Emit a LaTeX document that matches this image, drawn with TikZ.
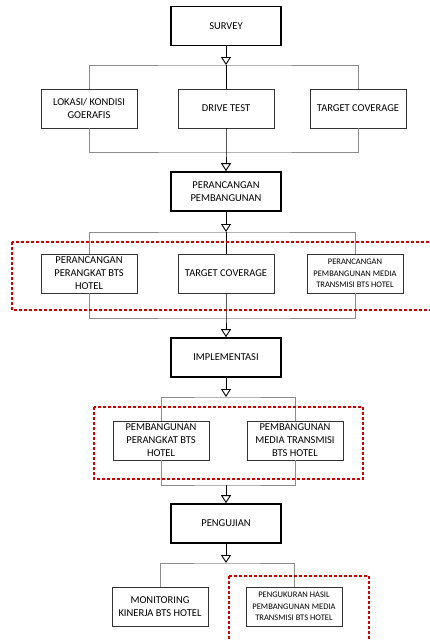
\documentclass[tikz,border=0pt]{standalone}
\usepackage{fontspec}
\setmainfont{Carlito}
\usetikzlibrary{arrows.meta, positioning}

\tikzset{
  stage/.style={draw, line width=1.6pt, minimum width=110pt, minimum height=39pt, align=center, inner sep=1pt, font=\fontsize{10.5}{13}\selectfont},
  task/.style={draw=black!80, line width=0.9pt, minimum width=96pt, minimum height=39pt, align=center, inner sep=1pt, font=\fontsize{10.5}{13}\selectfont},
  tasksmall/.style={task, font=\fontsize{8.5}{11.5}\selectfont},
  flow/.style={line width=0.9pt, -{Triangle[open, length=8pt, width=10pt]}},
  bus/.style={draw=black!45, line width=0.8pt},
  redbox/.style={draw=red!80!black, line width=1.5pt, dash pattern=on 3pt off 2pt}
}

\begin{document}
\begin{tikzpicture}[x=1pt, y=-1pt]
\useasboundingbox (0,0) rectangle (430,641);
% survey
\node[stage] (survey) at (226,26) {SURVEY};
\node[task] (lokasi) at (89,108.5) {LOKASI/ KONDISI\\GOERAFIS};
\node[task] (drive) at (226,108.5) {DRIVE TEST};
\node[task] (target) at (358,108.5) {TARGET COVERAGE};
\coordinate (bus1) at (226,65);
\coordinate (bus2) at (226,152);
\draw[flow] (survey) -- (bus1);
\draw[bus] (lokasi.north) |- (bus1) -| (target.north);
\draw[bus] (lokasi.south) |- (bus2) -| (target.south);
\draw[line width=0.9pt] (bus1) -- (drive.north);
% perancangan
\node[stage] (rancang) at (226,191.5) {PERANCANGAN\\PEMBANGUNAN};
\draw[flow] (drive.south) -- (bus2) -- (rancang.north);
\node[task] (perangkat) at (89,273.5) {PERANCANGAN\\PERANGKAT BTS\\HOTEL};
\node[task] (coverage) at (226,273.5) {TARGET COVERAGE};
\node[tasksmall] (media) at (355,273.5) {PERANCANGAN\\PEMBANGUNAN MEDIA\\TRANSMISI BTS HOTEL};
\coordinate (bus3) at (226,232);
\coordinate (bus4) at (226,318);
\draw[flow] (rancang) -- (bus3);
\draw[bus] (perangkat.north) |- (bus3) -| (media.north);
\draw[bus] (perangkat.south) |- (bus4) -| (media.south);
\draw[line width=0.9pt] (bus3) -- (coverage.north);
% implementasi
\node[stage] (impl) at (226,357.5) {IMPLEMENTASI};
\draw[flow] (coverage.south) -- (bus4) -- (impl.north);
\node[task] (bangunbts) at (161,440.5) {PEMBANGUNAN\\PERANGKAT BTS\\HOTEL};
\node[task] (bangunmedia) at (295,440.5) {PEMBANGUNAN\\MEDIA TRANSMISI\\BTS HOTEL};
\coordinate (bus5) at (226,397);
\coordinate (bus6) at (226,485);
\draw[flow] (impl) -- (bus5);
\draw[bus] (bangunbts.north) |- (bus5) -| (bangunmedia.north);
\draw[bus] (bangunbts.south) |- (bus6) -| (bangunmedia.south);
% pengujian
\node[stage] (uji) at (226,523.5) {PENGUJIAN};
\draw[flow] (bus6) -- (uji.north);
\node[task] (monitor) at (160,606.5) {MONITORING\\KINERJA BTS HOTEL};
\node[tasksmall] (ukur) at (294,606.5) {PENGUKURAN HASIL\\PEMBANGUNAN MEDIA\\TRANSMISI BTS HOTEL};
\coordinate (bus7) at (226,563);
\draw[flow] (uji) -- (bus7);
\draw[bus] (monitor.north) |- (bus7) -| (ukur.north);
% red marks
\draw[redbox] (12,242) rectangle (445,310);
\draw[redbox] (94,407) rectangle (363,479);
\draw[redbox] (229,576) rectangle (369,655);
\end{tikzpicture}
\end{document}
